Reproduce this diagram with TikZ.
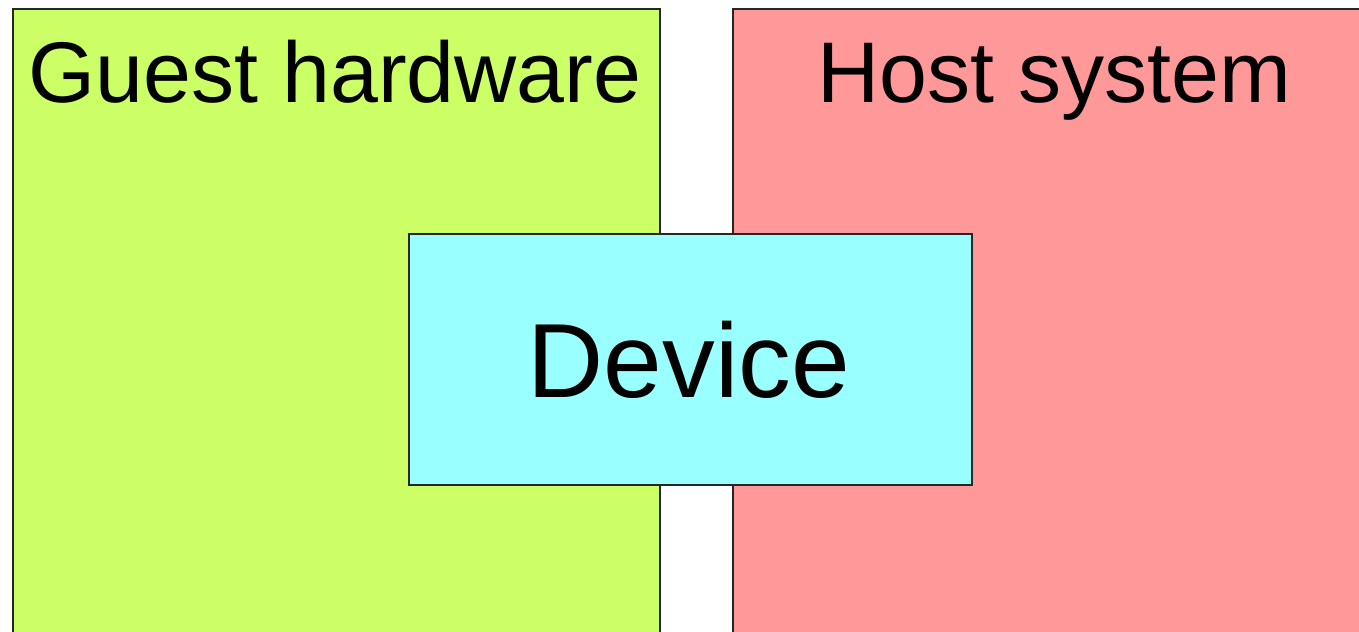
\documentclass[tikz,border=0pt]{standalone}
\usepackage{fontspec}
\setmainfont{Liberation Sans}
\usetikzlibrary{positioning}
\definecolor{guestgreen}{HTML}{CCFF66}
\definecolor{hostred}{HTML}{FF9999}
\definecolor{devcyan}{HTML}{99FFFF}

\tikzset{
  area/.style={draw=black!85, line width=1.1pt, inner sep=0pt},
  title/.style={font=\fontsize{49}{55}\selectfont, anchor=base},
}

\begin{document}
\begin{tikzpicture}[x=0.2mm, y=-0.2mm]
\useasboundingbox (0,0) rectangle (1359,632);
\clip (0,0) rectangle (1359,632);

% guest side
\node[area, fill=guestgreen, anchor=north west,
      minimum width=647*0.2mm, minimum height=660*0.2mm] (guest) at (12,8) {};
\node[title] (guesttitle) at (335,103) {Guest hardware};

% host side
\node[area, fill=hostred, anchor=north west,
      minimum width=660*0.2mm, minimum height=660*0.2mm] (host) at (732,8) {};
\node[title] (hosttitle) at (1054,103) {Host system};

% device straddling both
\node[area, fill=devcyan, anchor=north west,
      minimum width=563*0.2mm, minimum height=251*0.2mm] (device) at (408,233) {};
\node[font=\fontsize{60}{66}\selectfont, anchor=base] (devlabel) at (689,397) {Device};

\end{tikzpicture}
\end{document}
